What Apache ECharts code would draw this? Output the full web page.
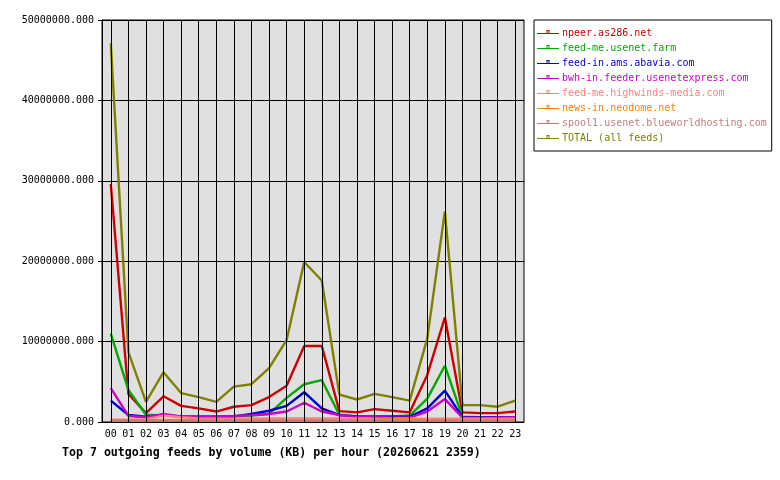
<!DOCTYPE html>
<html>
<head>
<meta charset="utf-8">
<script src="https://cdn.jsdelivr.net/npm/echarts@6/dist/echarts.min.js"></script>
<style>
  html, body { margin: 0; padding: 0; background: #fff; }
  #chart { width: 780px; height: 480px; }
</style>
</head>
<body>
<div id="chart"></div>
<script>
// hours of the day
const hours = ['00','01','02','03','04','05','06','07','08','09','10','11','12','13','14','15','16','17','18','19','20','21','22','23']

// KB per hour for each feed
const npeer = [29600000, 3500000, 1100000, 3200000, 2000000, 1700000, 1300000, 1900000, 2100000, 3100000, 4500000, 9450000, 9450000, 1350000, 1200000, 1600000, 1400000, 1200000, 5850000, 13000000, 1200000, 1100000, 1100000, 1300000]
const feedMe = [11000000, 4000000, 900000, 800000, 700000, 650000, 650000, 700000, 800000, 1000000, 3000000, 4700000, 5200000, 900000, 700000, 700000, 700000, 800000, 2900000, 7000000, 650000, 600000, 600000, 600000]
const feedIn = [2650000, 870000, 660000, 870000, 700000, 660000, 660000, 700000, 1000000, 1400000, 2000000, 3700000, 1700000, 850000, 700000, 650000, 650000, 650000, 1700000, 3900000, 600000, 600000, 600000, 600000]
const bwh = [4200000, 750000, 600000, 1000000, 660000, 600000, 660000, 750000, 850000, 1000000, 1300000, 2400000, 1300000, 850000, 600000, 600000, 550000, 550000, 1300000, 2850000, 550000, 550000, 550000, 600000]
const highwinds = [300000, 300000, 350000, 800000, 600000, 450000, 400000, 400000, 450000, 450000, 450000, 450000, 450000, 450000, 450000, 400000, 400000, 400000, 400000, 400000, 400000, 400000, 400000, 400000]
const newsIn = [200000, 200000, 200000, 250000, 250000, 200000, 200000, 200000, 200000, 200000, 200000, 200000, 200000, 200000, 200000, 200000, 450000, 450000, 200000, 200000, 200000, 200000, 200000, 200000]
const spool1 = [200000, 200000, 200000, 200000, 200000, 200000, 200000, 200000, 200000, 200000, 200000, 200000, 200000, 200000, 200000, 200000, 200000, 200000, 200000, 200000, 200000, 200000, 200000, 200000]
const total = [47100000, 8700000, 2500000, 6200000, 3600000, 3100000, 2500000, 4400000, 4700000, 6700000, 10200000, 19900000, 17600000, 3400000, 2800000, 3500000, 3100000, 2650000, 10400000, 26200000, 2100000, 2100000, 1900000, 2650000]

const names = ['npeer.as286.net', 'feed-me.usenet.farm', 'feed-in.ams.abavia.com', 'bwh-in.feeder.usenetexpress.com', 'feed-me.highwinds-media.com', 'news-in.neodome.net', 'spool1.usenet.blueworldhosting.com', 'TOTAL (all feeds)']
const colors = ['#cc0000', '#00aa00', '#0000cc', '#cc00cc', '#ff8080', '#ff8000', '#c08080', '#808000']
const values = [npeer, feedMe, feedIn, bwh, highwinds, newsIn, spool1, total]

const mono = 'DejaVu Sans Mono'
// legend icon: thin line with a small hollow square on top (22x10 box)
const legendIcon = 'path://M0,0h0.01v0.01h-0.01z M0,9.99h0.01v0.01h-0.01z ' +
  'M0,5h22v1h-22z M9.5,2h3v1h-3z M9.5,2h1v3h-1z M11.5,2h1v3h-1z'

let chart = echarts.init(document.getElementById('chart'))

let seriesData = []
// vertical grid lines at each hour, drawn under the data
seriesData.push({
  name: 'grid',
  type: 'line',
  data: [],
  z: 1,
  silent: true,
  markLine: {
    silent: true,
    symbol: ['none', 'none'],
    label: { show: false },
    lineStyle: { color: '#000', width: 1, type: 'solid' },
    emphasis: { disabled: true },
    animation: false,
    data: hours.map(h => ({ xAxis: h }))
  }
})
for (let i = 0; i < names.length; i++) {
  seriesData.push({
    name: names[i],
    type: 'line',
    data: values[i],
    z: 3,
    showSymbol: false,
    color: colors[i],
    lineStyle: { width: 2.4, color: colors[i] },
    emphasis: { disabled: true }
  })
}

let option = {
  animation: false,
  title: {
    text: 'Top 7 outgoing feeds by volume (KB) per hour (20260621 2359)',
    left: 57,
    top: 442,
    textStyle: { fontFamily: mono, fontWeight: 'bold', fontSize: 11.6, color: '#000' }
  },
  legend: {
    orient: 'vertical',
    left: 534,
    top: 20,
    padding: [8, 5, 8, 3],
    itemGap: 5,
    itemWidth: 22,
    itemHeight: 10,
    borderColor: '#000',
    borderWidth: 1,
    backgroundColor: '#fff',
    selectedMode: false,
    data: names.map((n, i) => ({ name: n, icon: legendIcon, itemStyle: { color: colors[i] }, textStyle: { color: colors[i] } })),
    textStyle: { fontFamily: mono, fontSize: 10, padding: [0, 0, 0, -2] }
  },
  grid: {
    left: 102,
    right: 256,
    top: 20,
    bottom: 58,
    show: true,
    backgroundColor: '#e0e0e0',
    borderColor: '#000',
    borderWidth: 1
  },
  xAxis: {
    type: 'category',
    data: hours,
    boundaryGap: true,
    axisLine: { lineStyle: { color: '#000' } },
    axisTick: { alignWithLabel: true, length: 4, lineStyle: { color: '#000' } },
    axisLabel: { fontFamily: mono, fontSize: 10, color: '#000', margin: 7, interval: 0 },
    splitLine: { show: false }
  },
  yAxis: {
    type: 'value',
    min: 0,
    max: 50000000,
    interval: 10000000,
    axisLine: { show: true, lineStyle: { color: '#000' } },
    axisTick: { show: true, length: 4, lineStyle: { color: '#000' } },
    axisLabel: {
      fontFamily: mono, fontSize: 10, color: '#000', margin: 8,
      formatter: v => v.toFixed(3)
    },
    splitLine: { lineStyle: { color: '#000', width: 1 } }
  },
  series: seriesData
}

chart.setOption(option)
</script>
</body>
</html>
